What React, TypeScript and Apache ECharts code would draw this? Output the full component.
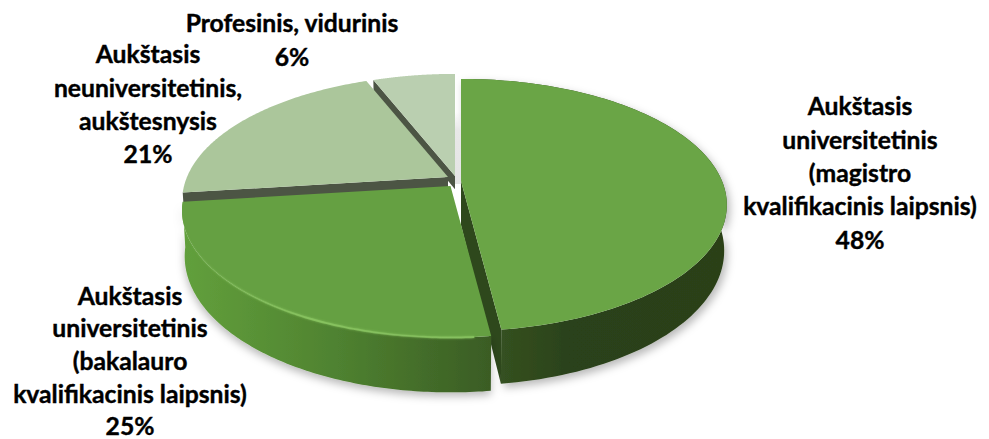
import React, { useEffect, useRef } from "react";
import * as echarts from "echarts";

const categories = [
  "Aukštasis\nuniversitetinis\n(magistro\nkvalifikacinis laipsnis)",
  "Aukštasis\nuniversitetinis\n(bakalauro\nkvalifikacinis laipsnis)",
  "Aukštasis\nneuniversitetinis,\naukštesnysis",
  "Profesinis, vidurinis",
];
const values = [48, 25, 21, 6];

// layout & styling, per slice
const centers = [[461, 181, 1], [450.5, 186, 1.01], [448, 177, 1], [455, 176, 1]];
const topColors = ["#6AA546", "#65A042", "#ABC69B", "#BACFB0"];
const radialWallColors = ["#2E481C", "#3C6024", "#4C5544", "#4C5544"];
const radialDepth = [1, 1, 0.3, 0.3];
const radialVisible = ["end", "none", "start", "start"];
const outerWallStops = [
  ["#3A5A24", "#2B421A", "#2A4019"],
  ["#62A03C", "#4F8230", "#3A5C24"],
  ["#4C5544", "#4C5544", "#4C5544"],
  ["#4C5544", "#4C5544", "#4C5544"],
];
const paintOrder = [1, 4, 3, 2]; // z level of slices, back to front
const labelPos = [[860, 89], [130, 279], [148, 37], [292, 6]];

const A = 261, B = 121.5, K = 0.19, H = 44;

function project(angleDeg: number, c: number[]) {
  const a = (angleDeg * Math.PI) / 180;
  const u = Math.sin(a);
  const v = -Math.cos(a);
  const d = 1 - K * v;
  const s = c[2];
  return { x: c[0] + (s * A * u) / d, y: c[1] + (s * B * v) / d, h: (s * H) / d };
}

function renderItem(params: any, api: any) {
  const i = params.dataIndex;
  const value = api.value(1) as number;
  const total = values.reduce((p, q) => p + q, 0);
  let prior = 0;
  for (let k = 0; k < i; k++) prior += values[k];
  const a0 = (prior / total) * 360;
  const a1 = ((prior + value) / total) * 360;
  const c = centers[i];
  const z = paintOrder[i] * 10;
  const N = 120;
  const top: number[][] = [];
  const bot: number[][] = [];
  for (let n = 0; n <= N; n++) {
    const p = project(a0 + ((a1 - a0) * n) / N, c);
    top.push([p.x, p.y]);
    bot.push([c[0] + (p.x - c[0]) * 0.99, p.y + p.h]);
  }
  const apex = [c[0], c[1]];
  const apexB = [c[0], c[1] + H * c[2]];
  const stops = outerWallStops[i];
  const last = top.length - 1;
  const rd = radialDepth[i];
  const lerpDown = (t: number[], b: number[]) => [t[0] + (b[0] - t[0]) * rd, t[1] + (b[1] - t[1]) * rd];
  const children: any[] = [];
  if (i === 0) {
    // soft grey shadow visible in the gap at the top of the pie
    children.push({
      type: "rect",
      z2: 1,
      shape: { x: 455, y: 112, width: 7, height: 72 },
      style: {
        fill: new echarts.graphic.LinearGradient(0, 0, 0, 1, [
          { offset: 0, color: "#ffffff" },
          { offset: 0.25, color: "#e8e8e8" },
          { offset: 1, color: "#e4e4e4" },
        ]),
      },
    });
  }
  // outer wall, casting the soft shadow
  if (i < 2) {
    children.push({
      type: "polygon",
      z2: z,
      shape: { points: [...top, ...bot.slice().reverse()] },
      style: {
        fill: new echarts.graphic.LinearGradient(0, 0, 1, 0, [
          { offset: 0, color: stops[0] },
          { offset: i === 0 ? 0.4 : 0.5, color: stops[1] },
          { offset: 1, color: stops[2] },
        ]),
        shadowBlur: 9,
        shadowColor: "rgba(0,0,0,0.28)",
        shadowOffsetX: i === 0 ? 3 : 0,
        shadowOffsetY: 4,
      },
    });
  }
  // radial wall facing the viewer
  if (radialVisible[i] !== "none") {
    const edge = radialVisible[i] === "start" ? 0 : last;
    children.push({
      type: "polygon",
      z2: z + 1,
      shape: { points: [apex, top[edge], lerpDown(top[edge], bot[edge]), lerpDown(apex, apexB)] },
      style: { fill: radialWallColors[i] },
    });
  }
  // top face
  children.push({
    type: "polygon",
    z2: z + 2,
    shape: { points: [apex, ...top] },
    style: { fill: topColors[i] },
  });
  // light rim along the front edge of the second slice
  if (i === 1) {
    children.push({
      type: "polyline",
      z2: z + 3,
      shape: { points: top.slice(4, last - 1) },
      style: {
        fill: "none",
        lineWidth: 2,
        stroke: new echarts.graphic.LinearGradient(0, 0, 1, 0, [
          { offset: 0, color: "rgba(135,195,95,0)" },
          { offset: 0.45, color: "rgba(135,195,95,0.95)" },
          { offset: 0.75, color: "rgba(135,195,95,0.7)" },
          { offset: 1, color: "rgba(135,195,95,0.9)" },
        ]),
        shadowBlur: 2,
        shadowColor: "rgba(135,195,95,0.8)",
      },
    });
  }
  // label
  children.push({
    type: "text",
    z2: 200,
    style: {
      text: `${categories[i]}\n${value}%`,
      x: labelPos[i][0],
      y: labelPos[i][1],
      align: "center",
      verticalAlign: "top",
      fontFamily: "Lato",
      fontWeight: "bold",
      fontSize: 24.7,
      lineHeight: i === 1 ? 32.6 : 33.4,
      fill: "#000000",
      stroke: "#000000",
      lineWidth: 0.4,
    },
  });
  return { type: "group", children };
}

export default function App() {
  const ref = useRef<HTMLDivElement>(null);
  useEffect(() => {
    const chart = echarts.init(ref.current!, null, { renderer: "svg" });
    chart.setOption({
      animation: false,
      backgroundColor: "#ffffff",
      series: [
        {
          type: "custom",
          coordinateSystem: "none",
          renderItem,
          silent: true,
          data: values.map((v, i) => [i, v]),
        },
      ],
    });
    return () => chart.dispose();
  }, []);
  return <div ref={ref} style={{ position: "fixed", left: 0, top: 0, width: 989, height: 439 }} />;
}
